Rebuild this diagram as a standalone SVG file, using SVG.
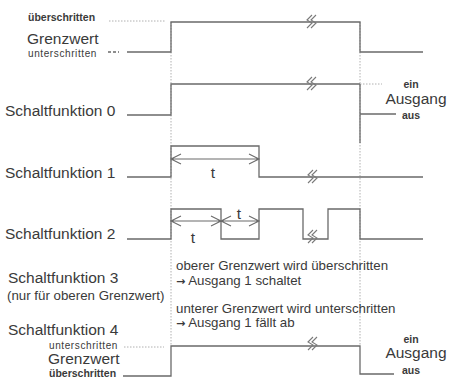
<svg xmlns="http://www.w3.org/2000/svg" width="451" height="378" viewBox="0 0 451 378">
<defs>
<style>
text{font-family:"Liberation Sans",Arial,sans-serif;fill:#3a3a3a}
.lbl{font-size:15.5px}
.sm{font-size:10px;letter-spacing:0.6px}
.smb{font-size:10.5px;font-weight:bold}
.note{font-size:13.3px}
.arr{font-family:"DejaVu Sans",sans-serif;font-weight:bold;font-size:11px}
.io{font-size:10.5px;font-weight:bold}
.big{font-size:15.5px}
.sig{fill:none;stroke:#6a6a6a;stroke-width:1.3}
.dot{fill:none;stroke:#b0b0b0;stroke-width:1;stroke-dasharray:1.5 1.5}
.dim{fill:none;stroke:#6a6a6a;stroke-width:1.1}
.brk{fill:none;stroke:#7a7a7a;stroke-width:1.1}
</style>
<g id="br"><path class="brk" d="M3,-7 L-2,-2 L3,1 L-2,6 M7,-7 L2,-2 L7,1 L2,6"/></g>
</defs>
<rect width="451" height="378" fill="#fff"/>
<g id="guides">
<line class="dot" x1="171" y1="22" x2="171" y2="346"/>
<line class="dot" x1="360" y1="22" x2="360" y2="346"/>
</g>
<g id="grenzwert-top">
<text class="smb" x="28" y="21">überschritten</text>
<text class="lbl" x="27" y="44">Grenzwert</text>
<text class="sm" x="28" y="57">unterschritten</text>
<line class="dot" x1="109" y1="21" x2="165" y2="21"/>
<line class="sig" x1="108" y1="52" x2="119" y2="52" stroke-dasharray="3 2"/>
<polyline class="sig" points="127,52 171,52 171,22 360,22 360,52 423,52"/>
<use href="#br" x="309" y="22"/>
</g>
<g id="sf0">
<text class="lbl" x="5" y="116">Schaltfunktion 0</text>
<polyline class="sig" points="127,115 171,115 171,84 360,84"/>
<line class="dot" x1="360" y1="84" x2="382" y2="84"/>
<polyline class="sig" points="360,84 360,143"/>
<line class="sig" x1="360" y1="114" x2="396" y2="114"/>
<use href="#br" x="309" y="84"/>
<text class="io" x="411" y="88" text-anchor="middle">ein</text>
<text class="big" x="416" y="104" text-anchor="middle">Ausgang</text>
<text class="io" x="411" y="119" text-anchor="middle">aus</text>
</g>
<g id="sf1">
<text class="lbl" x="5" y="178">Schaltfunktion 1</text>
<polyline class="sig" points="127,177 171,177 171,146 259,146 259,177 423,177"/>
<use href="#br" x="310" y="177"/>
<path class="dim" d="M171,159 L259,159 M181,154 L171,159 L181,164 M249,154 L259,159 L249,164"/>
<text class="lbl" x="213" y="178" text-anchor="middle">t</text>
</g>
<g id="sf2">
<text class="lbl" x="5" y="239">Schaltfunktion 2</text>
<polyline class="sig" points="127,239 171,239 171,209 221,209 221,239 259,239 259,209 303,209 303,239 328,239 328,209 360,209 360,239 423,239"/>
<use href="#br" x="310" y="237"/>
<path class="dim" d="M171,221 L259,221 M181,216 L171,221 L181,226 M211,216 L221,221 L211,226 M231,216 L221,221 L231,226 M249,216 L259,221 L249,226"/>
<text class="lbl" x="193" y="243" text-anchor="middle">t</text>
<text class="lbl" x="239" y="219" text-anchor="middle">t</text>
</g>
<g id="sf3">
<text class="lbl" x="8" y="283">Schaltfunktion 3</text>
<text class="note" x="7" y="300">(nur für oberen Grenzwert)</text>
<text class="note" x="176" y="270">oberer Grenzwert wird überschritten</text>
<text class="note" x="176" y="285"><tspan class="arr">→</tspan> Ausgang 1 schaltet</text>
<text class="note" x="176" y="313">unterer Grenzwert wird unterschritten</text>
<text class="note" x="176" y="327"><tspan class="arr">→</tspan> Ausgang 1 fällt ab</text>
</g>
<g id="sf4">
<text class="lbl" x="8" y="335">Schaltfunktion 4</text>
<text class="sm" x="49" y="349">unterschritten</text>
<text class="lbl" x="48" y="364">Grenzwert</text>
<text class="smb" x="49" y="377">überschritten</text>
<line class="dot" x1="124" y1="347" x2="164" y2="347"/>
<polyline class="sig" points="123,376 171,376 171,346 360,346 360,374 394,374"/>
<use href="#br" x="310" y="344"/>
<text class="io" x="411" y="343" text-anchor="middle">ein</text>
<text class="big" x="416" y="358" text-anchor="middle">Ausgang</text>
<text class="io" x="411" y="374" text-anchor="middle">aus</text>
</g>
</svg>
